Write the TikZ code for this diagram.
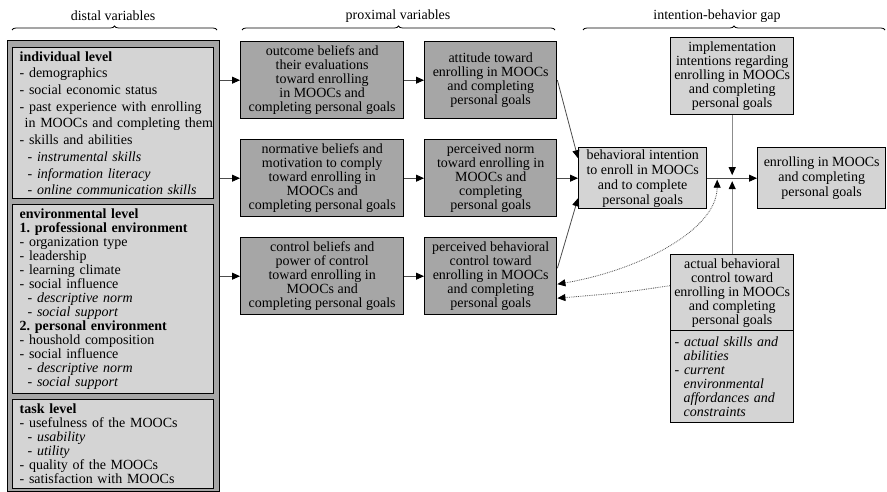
\documentclass[tikz,border=0pt]{standalone}
\usepackage{fontspec}
\setmainfont{Liberation Serif}
\usetikzlibrary{arrows.meta,decorations.pathreplacing}

\definecolor{boxdark}{gray}{0.65}
\definecolor{boxlight}{gray}{0.83}
\definecolor{linkgray}{gray}{0.3}
\definecolor{stemgray}{gray}{0.55}

\newcommand{\subline}[1]{\hspace*{8pt}\textit{- #1}}

\tikzset{
  darkbox/.style={draw, line width=1.4pt, fill=boxdark, anchor=north west, align=center,
    inner sep=0pt, font=\fontsize{14}{14}\selectfont},
  lightbox/.style={darkbox, fill=boxlight},
  listbox/.style={lightbox, align=left, inner xsep=7pt, text width=187pt, minimum width=201pt},
  link/.style={draw=linkgray, line width=0.8pt, ->},
  stem/.style={draw=stemgray, line width=1pt, ->},
  feedback/.style={draw=linkgray, line width=0.8pt, densely dotted},
  gapbrace/.style={decorate, decoration={brace, amplitude=4pt}, line width=0.8pt},
}

\begin{document}
\frenchspacing
\begin{tikzpicture}[x=1pt, y=-1pt, >={Triangle[length=8pt,width=7pt,color=black]},
    font=\fontsize{14}{14}\selectfont]
  \useasboundingbox (0,0) rectangle (887,492);

  \node (distalhead) at (113,16) {distal variables};
  \node (proximalhead) at (398,16) {proximal variables};
  \node (gaphead) at (717,16) {intention-behavior gap};
  \draw[gapbrace] (12,30) -- (217,30);
  \draw[gapbrace] (242,30) -- (555,30);
  \draw[gapbrace] (583,30) -- (885,30);

  \node[darkbox, minimum width=212pt, minimum height=451pt] (distal) at (7,40) {};
  \node[listbox, minimum height=151pt, font=\fontsize{14}{16.7}\selectfont] (indiv) at (12,47) {%
    \textbf{individual level}\\
    - demographics\\
    - social economic status\\
    - past experience with enrolling\\
    \hspace*{5pt}\mbox{in MOOCs and completing them}\\
    - skills and abilities\\
    \subline{instrumental skills}\\
    \subline{information literacy}\\
    \subline{online communication skills}};
  \node[listbox, minimum height=189pt] (envir) at (12,204) {%
    \textbf{environmental level}\\
    \textbf{1. professional environment}\\
    - organization type\\
    - leadership\\
    - learning climate\\
    - social influence\\
    \subline{descriptive norm}\\
    \subline{social support}\\
    \textbf{2. personal environment}\\
    - houshold composition\\
    - social influence\\
    \subline{descriptive norm}\\
    \subline{social support}};
  \node[listbox, minimum height=89pt] (task) at (12,399) {%
    \textbf{task level}\\
    - usefulness of the MOOCs\\
    \subline{usability}\\
    \subline{utility}\\
    - quality of the MOOCs\\
    - satisfaction with MOOCs};

  \node[darkbox, minimum width=163pt, minimum height=77pt] (outcome) at (240,41)
    {outcome beliefs and\\their evaluations\\toward enrolling\\in MOOCs and\\completing personal goals};
  \node[darkbox, minimum width=163pt, minimum height=77pt] (normative) at (240,139)
    {normative beliefs and\\motivation to comply\\toward enrolling in\\MOOCs and\\completing personal goals};
  \node[darkbox, minimum width=163pt, minimum height=77pt] (control) at (240,237)
    {control beliefs and\\power of control\\toward enrolling in\\MOOCs and\\completing personal goals};

  \node[darkbox, minimum width=132pt, minimum height=77pt] (attitude) at (424,41)
    {attitude toward\\enrolling in MOOCs\\and completing\\personal goals};
  \node[darkbox, minimum width=132pt, minimum height=77pt] (norm) at (424,139)
    {perceived norm\\toward enrolling in\\MOOCs and\\completing\\personal goals};
  \node[darkbox, minimum width=132pt, minimum height=77pt] (pbc) at (424,237)
    {perceived behavioral\\control toward\\enrolling in MOOCs\\and completing\\personal goals};

  \node[lightbox, minimum width=128pt, minimum height=61pt, font=\fontsize{14}{15}\selectfont] (intention) at (578,147)
    {behavioral intention\\to enroll in MOOCs\\and to complete\\personal goals};
  \node[lightbox, minimum width=128pt, minimum height=61pt, font=\fontsize{14}{15}\selectfont] (behavior) at (757,147)
    {enrolling in MOOCs\\and completing\\personal goals};
  \node[lightbox, minimum width=123pt, minimum height=77pt] (implement) at (670,37)
    {implementation\\intentions regarding\\enrolling in MOOCs\\and completing\\personal goals};
  \node[lightbox, minimum width=123pt, minimum height=76pt] (actual) at (670,254)
    {actual behavioral\\control toward\\enrolling in MOOCs\\and completing\\personal goals};
  \node[lightbox, align=left, inner xsep=4pt, text width=115pt, minimum width=123pt, minimum height=92pt] (actualsub) at (670,330)
    {- \textit{actual skills and}\\\hspace*{9pt}\textit{abilities}\\- \textit{current}\\\hspace*{9pt}\textit{environmental}\\\hspace*{9pt}\textit{affordances and}\\\hspace*{9pt}\textit{constraints}};

  \draw[link] (distal.east |- outcome) -- (outcome);
  \draw[link] (distal.east |- normative) -- (normative);
  \draw[link] (distal.east |- control) -- (control);
  \draw[link] (outcome) -- (attitude);
  \draw[link] (normative) -- (norm);
  \draw[link] (control) -- (pbc);
  \draw[link] (attitude.east) -- ([yshift=20pt]intention.west);
  \draw[link] (norm) -- (intention);
  \draw[link] ([yshift=8pt]pbc.east) -- ([yshift=-20pt]intention.west);
  \draw[link] (intention) -- (behavior);

  \coordinate (hub) at (implement.south |- intention.east);
  \coordinate (gate) at ([xshift=-15pt,yshift=-1.5pt]hub);
  \draw[stem] (implement) -- ([yshift=3pt]hub);
  \draw[stem] (actual) -- ([yshift=-3pt]hub);
  \draw[feedback, <->] ([yshift=-8pt]pbc.east) .. controls (640,270) and (717,230) .. (gate);
  \draw[feedback, ->] ([yshift=7pt]actual.west) .. controls (620,293) .. ([yshift=-22pt]pbc.east);
\end{tikzpicture}
\end{document}
